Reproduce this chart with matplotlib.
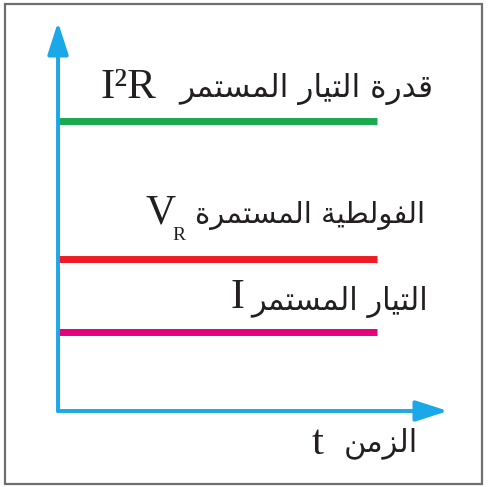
import matplotlib
matplotlib.use("Agg")
import matplotlib.pyplot as plt
from matplotlib.patches import Rectangle

# ---- data ----
labels_ar = ["قدرة التيار المستمر", "الفولطية المستمرة", "التيار المستمر"]
levels = [3.67, 1.92, 1.0]
colors = ["#1aaa4e", "#ed1c24", "#e5007d"]
t_start, t_end = 0.0, 10.0
xlabel_ar = "الزمن"

# ---- simple Arabic shaping (presentation forms) ----
FORMS = {
    'ا': (0xFE8D, 0xFE8E, None, None),
    'د': (0xFEA9, 0xFEAA, None, None),
    'ر': (0xFEAD, 0xFEAE, None, None),
    'ز': (0xFEAF, 0xFEB0, None, None),
    'و': (0xFEED, 0xFEEE, None, None),
    'ة': (0xFE93, 0xFE94, None, None),
    'ق': (0xFED5, 0xFED6, 0xFED7, 0xFED8),
    'ل': (0xFEDD, 0xFEDE, 0xFEDF, 0xFEE0),
    'ت': (0xFE95, 0xFE96, 0xFE97, 0xFE98),
    'ي': (0xFEF1, 0xFEF2, 0xFEF3, 0xFEF4),
    'م': (0xFEE1, 0xFEE2, 0xFEE3, 0xFEE4),
    'س': (0xFEB1, 0xFEB2, 0xFEB3, 0xFEB4),
    'ف': (0xFED1, 0xFED2, 0xFED3, 0xFED4),
    'ط': (0xFEC1, 0xFEC2, 0xFEC3, 0xFEC4),
    'ن': (0xFEE5, 0xFEE6, 0xFEE7, 0xFEE8),
}


def shape(s):
    out = []
    for i, c in enumerate(s):
        if c not in FORMS:
            out.append(c)
            continue
        prev = s[i - 1] if i > 0 else None
        nxt = s[i + 1] if i + 1 < len(s) else None
        jp = prev in FORMS and FORMS[prev][2] is not None
        jn = FORMS[c][2] is not None and nxt in FORMS
        iso, fin, ini, med = FORMS[c]
        if jp and jn:
            out.append(chr(med))
        elif jp:
            out.append(chr(fin))
        elif jn:
            out.append(chr(ini))
        else:
            out.append(chr(iso))
    return "".join(out)[::-1]


W, H = 491, 487
fig = plt.figure(figsize=(W / 100, H / 100), dpi=100)
fig.patch.set_facecolor("white")

def fx(px):
    return px / W

def fy(py):
    return 1 - py / H

# border
fig.patches.append(Rectangle((fx(5), fy(484)), fx(482) - fx(5), fy(4) - fy(484),
                             transform=fig.transFigure, fill=False,
                             edgecolor="#6e6e6e", linewidth=1.6))

ox, oy = 58, 411
tx, ty = 448, 22
ax = fig.add_axes([fx(ox), fy(oy), fx(tx) - fx(ox), fy(ty) - fy(oy)])
xmax = t_end * (tx - ox) / (377 - ox)
ymax = levels[2] * (oy - ty) / (oy - 332)
ax.set_xlim(0, xmax)
ax.set_ylim(0, ymax)
ax.axis("off")

for lv, c in zip(levels, colors):
    ax.plot([t_start, t_end], [lv, lv], color=c, lw=5.0, solid_capstyle="butt",
            zorder=2)

axc = "#1ba8e8"
arrow = dict(arrowstyle="-|>,head_length=1.4,head_width=0.45", color=axc,
             lw=2.8, mutation_scale=14, shrinkA=0, shrinkB=0)
ax.annotate("", xy=(0, 1), xytext=(0, 0), xycoords="axes fraction",
            arrowprops=arrow, annotation_clip=False, zorder=3)
ax.annotate("", xy=(1, 0), xytext=(0, 0), xycoords="axes fraction",
            arrowprops=arrow, annotation_clip=False, zorder=3)

arf = "DejaVu Sans"
lat = "Liberation Serif"
tc = "#231f20"

# label 1
fig.text(fx(433), fy(97), shape(labels_ar[0]), family=arf, fontsize=22.5,
         ha="right", va="baseline", color=tc)
fig.text(fx(101), fy(98), "I²R", family=lat, fontsize=31, ha="left",
         va="baseline", color=tc)
# label 2
fig.text(fx(425), fy(223), shape(labels_ar[1]), family=arf, fontsize=21,
         ha="right", va="baseline", color=tc)
fig.text(fx(145), fy(223), "V", family=lat, fontsize=30, ha="left",
         va="baseline", color=tc)
fig.text(fx(172), fy(240), "R", family=lat, fontsize=14, ha="left",
         va="baseline", color=tc)
# label 3
fig.text(fx(428), fy(310), shape(labels_ar[2]), family=arf, fontsize=22,
         ha="right", va="baseline", color=tc)
fig.text(fx(230), fy(308), "I", family=lat, fontsize=30, ha="left",
         va="baseline", color=tc)
# x label
fig.text(fx(418), fy(451), shape(xlabel_ar), family=arf, fontsize=22,
         ha="right", va="baseline", color=tc)
fig.text(fx(312), fy(454), "t", family=lat, fontsize=31, ha="left",
         va="baseline", color=tc)

fig.savefig("out.png", dpi=100)
